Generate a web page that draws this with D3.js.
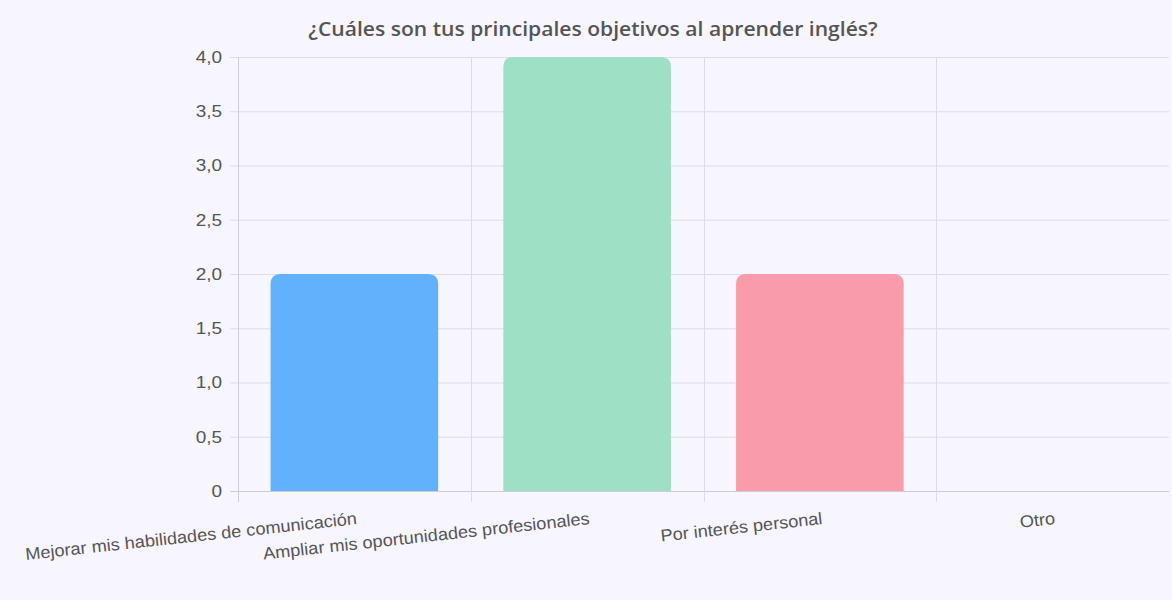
<!DOCTYPE html>
<html><head><meta charset="utf-8">
<script src="https://cdn.jsdelivr.net/npm/d3@7"></script>
<style>
html,body{margin:0;padding:0;background:#f7f5fd;}
svg{display:block;}
</style></head>
<body>
<script>
const title = "¿Cuáles son tus principales objetivos al aprender inglés?";
const categories = ["Mejorar mis habilidades de comunicación","Ampliar mis oportunidades profesionales","Por interés personal","Otro"];
const values = [2, 4, 2, 0];
const colors = ["#62b1fd","#9de0c5","#f99bab","#c9cbcf"];
const yTicks = [0,0.5,1,1.5,2,2.5,3,3.5,4];

const W = 1172, H = 600;
const mLeft = 238, mRight = 1169, mTop = 57, mBottom = 491;
const svg = d3.select("body").append("svg").attr("width", W).attr("height", H);
svg.append("rect").attr("width", W).attr("height", H).attr("fill", "#f7f5fd");

const x = d3.scaleBand().domain(categories).range([mLeft, mRight]).paddingInner(0).paddingOuter(0);
const y = d3.scaleLinear().domain([0, 4]).range([mBottom, mTop]);
const fmt = v => v === 0 ? "0" : d3.format(".1f")(v).replace(".", ",");

const grid = "#dedbe6";
svg.append("g").selectAll("line").data(yTicks).join("line")
  .attr("x1", mLeft - 8).attr("x2", mRight)
  .attr("y1", d => y(d) + 0.5).attr("y2", d => y(d) + 0.5)
  .attr("stroke", d => d === 0 ? "#cfcbd8" : grid).attr("stroke-width", 1);
const bounds = categories.map(c => x(c));
svg.append("g").selectAll("line").data(bounds).join("line")
  .attr("x1", d => Math.round(d) + 0.5).attr("x2", d => Math.round(d) + 0.5)
  .attr("y1", mTop).attr("y2", mBottom + 11)
  .attr("stroke", (d,i) => i === 0 ? "#cfcbd8" : grid);

svg.append("g").selectAll("text").data(yTicks).join("text")
  .attr("transform", d => `translate(${mLeft - 16},${y(d)}) scale(1.15,1)`)
  .attr("dy", "0.36em")
  .attr("text-anchor", "end")
  .attr("font-family", "Liberation Sans, Arial, sans-serif").attr("font-size", 16.5)
  .attr("fill", "#555").text(fmt);

const bw = x.bandwidth() * 0.72;
const r = 10;
svg.append("g").selectAll("path").data(categories.map((c,i)=>({c, v: values[i], col: colors[i]})).filter(d => d.v > 0)).join("path")
  .attr("d", d => {
    const x0 = x(d.c) + (x.bandwidth() - bw) / 2, x1 = x0 + bw;
    const y0 = y(d.v), y1 = y(0);
    return `M${x0},${y1}L${x0},${y0 + r}Q${x0},${y0} ${x0 + r},${y0}L${x1 - r},${y0}Q${x1},${y0} ${x1},${y0 + r}L${x1},${y1}Z`;
  })
  .attr("fill", d => d.col);

svg.append("g").selectAll("text").data(categories).join("text")
  .attr("transform", d => `translate(${x(d) + x.bandwidth() / 2 + 3},${524}) rotate(-6.2) scale(1.07,1)`)
  .attr("text-anchor", "end")
  .attr("font-family", "Liberation Sans, Arial, sans-serif").attr("font-size", 17)
  .attr("fill", "#555").text(d => d);

svg.append("text").attr("transform", "translate(593,36) scale(1.055,1)").attr("text-anchor", "middle")
  .attr("font-family", "Open Sans, sans-serif").attr("font-weight", 600).attr("font-size", 20)
  .attr("fill", "#555").text(title);
</script>
</body></html>
